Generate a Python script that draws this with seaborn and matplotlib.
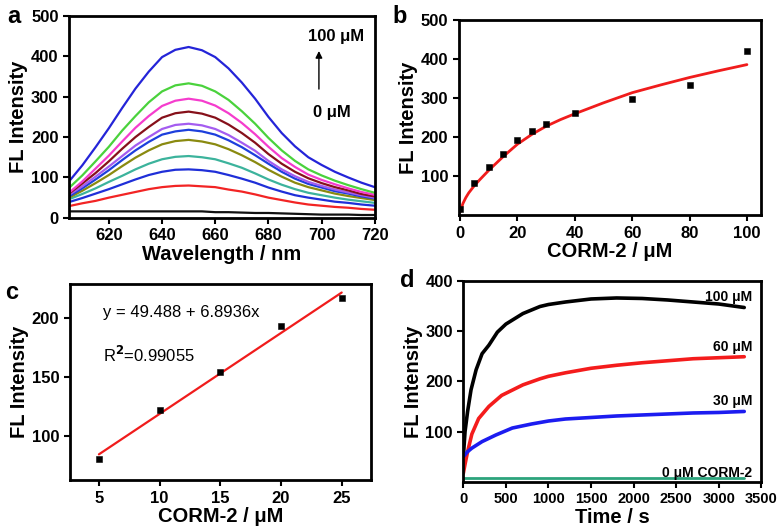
import pandas as pd
import seaborn as sns
import matplotlib.pyplot as plt

# ---- panel a: emission spectra ----
wavelength = [605, 610, 615, 620, 625, 630, 635, 640, 645, 650, 655, 660,
              665, 670, 675, 680, 685, 690, 695, 700, 705, 710, 715, 720]
conc_labels = ["0", "5", "10", "15", "20", "25", "30", "40", "60", "80", "100"]
spectra = [
    [16, 16, 16, 16, 16, 16, 16, 16, 16, 16, 16, 14, 14, 13, 12, 12, 11, 10, 9, 8, 8, 8, 7, 7],
    [29, 36, 42, 50, 57, 64, 71, 76, 79, 80, 78, 76, 70, 65, 58, 50, 44, 38, 33, 30, 27, 25, 22, 20],
    [39, 49, 60, 71, 83, 95, 106, 114, 119, 120, 118, 114, 106, 97, 87, 75, 65, 56, 50, 45, 40, 37, 33, 30],
    [46, 59, 73, 89, 104, 120, 134, 145, 151, 153, 150, 145, 135, 124, 110, 95, 82, 71, 62, 56, 50, 45, 41, 37],
    [50, 67, 86, 106, 128, 149, 167, 182, 190, 193, 189, 182, 170, 155, 138, 119, 102, 87, 76, 68, 60, 54, 49, 44],
    [53, 73, 95, 118, 143, 167, 188, 206, 214, 218, 214, 206, 192, 175, 155, 134, 114, 97, 84, 75, 66, 60, 53, 48],
    [57, 78, 102, 127, 153, 179, 200, 220, 230, 233, 229, 220, 205, 186, 166, 141, 120, 103, 89, 79, 70, 63, 56, 50],
    [60, 85, 111, 140, 171, 200, 225, 248, 259, 263, 258, 248, 231, 210, 186, 158, 134, 114, 98, 86, 76, 68, 59, 53],
    [62, 90, 122, 154, 189, 223, 252, 277, 290, 295, 290, 278, 259, 235, 207, 176, 148, 126, 107, 94, 83, 73, 64, 57],
    [74, 105, 140, 176, 216, 252, 286, 313, 328, 333, 327, 313, 292, 264, 233, 198, 167, 141, 120, 105, 92, 81, 71, 62],
    [90, 130, 175, 222, 272, 320, 362, 398, 416, 423, 415, 398, 370, 335, 295, 250, 210, 177, 150, 131, 114, 100, 87, 76],
]
spec_colors = ["#111111", "#f22424", "#1f2fd8", "#3cb39c", "#8a8a10", "#1d3fdc",
               "#a45cf0", "#86101a", "#f53ccd", "#4ad23c", "#2424d8"]

# ---- panel b: titration ----
corm_b = [0, 5, 10, 15, 20, 25, 30, 40, 60, 80, 100]
fl_b = [17, 82, 123, 156, 194, 217, 235, 261, 297, 333, 421]
fit_b_x = [0, 1, 2, 3, 5, 7, 10, 15, 20, 25, 30, 35, 40, 50, 60, 70, 80, 90, 100]
fit_b_y = [8, 30, 45, 57, 76, 92, 115, 150, 182, 207, 228, 245, 260, 288, 314, 334, 353, 370, 386]

# ---- panel c: linear range ----
corm_c = [5, 10, 15, 20, 25]
fl_c = [80, 122, 154, 193, 217]
fit_c_x = [5, 25]
fit_c_y = [84.0, 221.8]

# ---- panel d: kinetics ----
t_100 = [0, 20, 50, 90, 150, 220, 300, 400, 500, 700, 900, 1000, 1200, 1500, 1800, 2100, 2400, 2700, 3000, 3300]
fl_100 = [50, 100, 140, 183, 223, 255, 272, 298, 314, 335, 349, 353, 358, 364, 366, 365, 362, 358, 354, 347]
t_60 = [0, 20, 50, 100, 180, 300, 450, 700, 900, 1000, 1200, 1500, 1800, 2100, 2400, 2700, 3000, 3300]
fl_60 = [17, 35, 60, 95, 126, 150, 172, 193, 205, 210, 217, 226, 232, 237, 241, 245, 247, 249]
t_30 = [0, 50, 100, 220, 380, 575, 800, 1000, 1200, 1500, 1800, 2100, 2400, 2700, 3000, 3300]
fl_30 = [50, 60, 67, 80, 93, 107, 115, 121, 125, 128, 131, 133, 135, 137, 138, 140]
t_0 = [0, 3300]
fl_0 = [7, 7]

sns.set_style("ticks")
plt.rcParams["font.family"] = ["Liberation Sans", "DejaVu Sans"]
plt.rcParams["font.weight"] = "bold"
plt.rcParams["axes.labelweight"] = "bold"
plt.rcParams["axes.linewidth"] = 2
plt.rcParams["axes.edgecolor"] = "black"
plt.rcParams["axes.labelcolor"] = "black"
plt.rcParams["text.color"] = "black"
plt.rcParams["xtick.color"] = "black"
plt.rcParams["ytick.color"] = "black"
plt.rcParams["xtick.major.width"] = 1.5
plt.rcParams["ytick.major.width"] = 1.5
plt.rcParams["xtick.major.size"] = 4
plt.rcParams["ytick.major.size"] = 4
plt.rcParams["xtick.labelsize"] = 12
plt.rcParams["ytick.labelsize"] = 12
plt.rcParams["axes.labelsize"] = 14.5

fig = plt.figure(figsize=(7.84, 5.30), dpi=100)
ax_a = fig.add_axes([0.088, 0.589, 0.390, 0.381])
ax_b = fig.add_axes([0.585, 0.594, 0.386, 0.368])
ax_c = fig.add_axes([0.089, 0.094, 0.384, 0.370])
ax_d = fig.add_axes([0.591, 0.091, 0.380, 0.379])

# a
rows = []
for lab, vals in zip(conc_labels, spectra):
    for w, v in zip(wavelength, vals):
        rows.append({"w": w, "v": v, "c": lab})
df_a = pd.DataFrame(rows)
sns.lineplot(data=df_a, x="w", y="v", hue="c", hue_order=conc_labels,
             palette=spec_colors, linewidth=1.6, legend=False, ax=ax_a)
ax_a.set_xlim(605, 720)
ax_a.set_ylim(0, 500)
ax_a.set_xticks([620, 640, 660, 680, 700, 720])
ax_a.set_yticks([0, 100, 200, 300, 400, 500])
ax_a.set_xlabel("Wavelength / nm", labelpad=1)
ax_a.set_ylabel("FL Intensity", labelpad=2)
ax_a.annotate("", xy=(699, 420), xytext=(699, 312),
              arrowprops=dict(arrowstyle="-|>", color="black", lw=1, mutation_scale=10))
ax_a.text(705.5, 448, "100 μM", ha="center", va="center", fontsize=12, fontweight="bold")
ax_a.text(704, 261, "0 μM", ha="center", va="center", fontsize=12, fontweight="bold")

# b
sns.lineplot(x=fit_b_x, y=fit_b_y, color="#f01c1c", linewidth=2, ax=ax_b)
sns.scatterplot(x=corm_b, y=fl_b, marker="s", s=22, color="black", edgecolor="black", ax=ax_b, zorder=3)
ax_b.set_xlim(-0.5, 105)
ax_b.set_ylim(0, 500)
ax_b.set_xticks([0, 20, 40, 60, 80, 100])
ax_b.set_yticks([100, 200, 300, 400, 500])
ax_b.set_xlabel("CORM-2 / μM", labelpad=1)
ax_b.set_ylabel("FL Intensity", labelpad=2)

# c
sns.lineplot(x=fit_c_x, y=fit_c_y, color="#f01c1c", linewidth=1.6, ax=ax_c)
sns.scatterplot(x=corm_c, y=fl_c, marker="s", s=22, color="black", edgecolor="black", ax=ax_c, zorder=3)
ax_c.set_xlim(2.6, 27.4)
ax_c.set_ylim(62, 229)
ax_c.set_xticks([5, 10, 15, 20, 25])
ax_c.set_yticks([100, 150, 200])
ax_c.set_xlabel("CORM-2 / μM", labelpad=1)
ax_c.set_ylabel("FL Intensity", labelpad=2)
ax_c.text(5.3, 204.5, "y = 49.488 + 6.8936x", ha="left", va="center", fontsize=12, fontweight="normal")
ax_c.text(5.3, 168.7, r"R$^{2}$=0.99055", ha="left", va="center", fontsize=12, fontweight="normal")

# d
sns.lineplot(x=t_100, y=fl_100, color="black", linewidth=2.6, ax=ax_d)
sns.lineplot(x=t_60, y=fl_60, color="#f41c1c", linewidth=2.6, ax=ax_d)
sns.lineplot(x=t_30, y=fl_30, color="#1c1cf0", linewidth=2.6, ax=ax_d)
sns.lineplot(x=t_0, y=fl_0, color="#2ca47c", linewidth=2, ax=ax_d)
ax_d.set_xlim(0, 3500)
ax_d.set_ylim(0, 400)
ax_d.set_xticks(range(0, 3501, 500))
ax_d.set_yticks([100, 200, 300, 400])
ax_d.tick_params(axis="x", labelsize=10.5)
ax_d.set_xlabel("Time / s", labelpad=1)
ax_d.set_ylabel("FL Intensity", labelpad=2)
for txt, yy in [("100 μM", 368), ("60 μM", 269), ("30 μM", 160), ("0 μM CORM-2", 17)]:
    ax_d.text(3390, yy, txt, ha="right", va="center", fontsize=10, fontweight="bold")

for ax in (ax_a, ax_b, ax_c, ax_d):
    for s in ax.spines.values():
        s.set_visible(True)
        s.set_linewidth(2)
        s.set_color("black")
    ax.tick_params(direction="out", top=False, right=False, colors="black")

for lab, x, y in [("a", 0.018, 0.968), ("b", 0.510, 0.968), ("c", 0.015, 0.449), ("d", 0.519, 0.470)]:
    fig.text(x, y, lab, ha="center", va="center", fontsize=17, fontweight="bold")

fig.savefig("out.png", dpi=100)
